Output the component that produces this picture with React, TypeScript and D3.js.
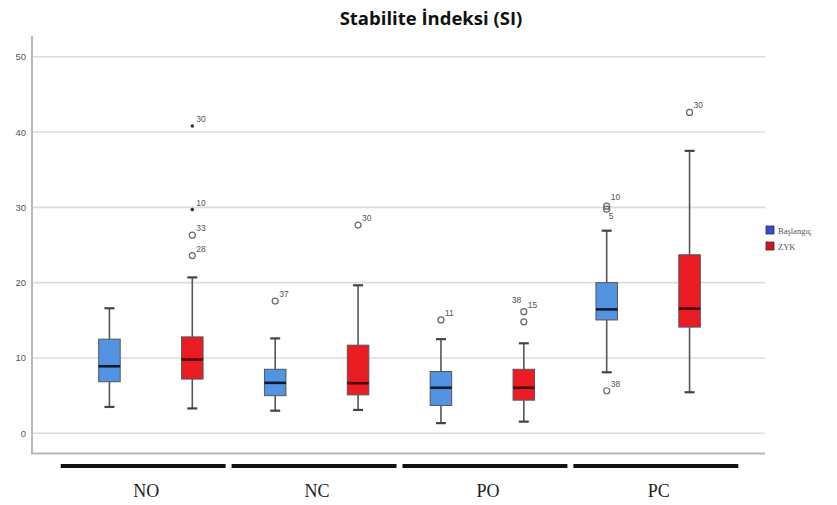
import React from "react";
import * as d3 from "d3";

const categories = ["NO", "NC", "PO", "PC"];
const seriesNames = ["Başlangıç", "ZYK"];
const seriesColors = ["#5294E2", "#E91C24"];
const legendColors = ["#2E4FD8", "#D81018"];

// [whiskerLow, q1, median, q3, whiskerHigh] per category
const baslangicStats = [
  [3.5, 6.85, 8.9, 12.5, 16.6],
  [3.0, 5.0, 6.7, 8.5, 12.6],
  [1.35, 3.7, 6.05, 8.2, 12.5],
  [8.1, 15.05, 16.45, 20.0, 26.9],
];
const zykStats = [
  [3.3, 7.2, 9.8, 12.8, 20.7],
  [3.1, 5.1, 6.65, 11.7, 19.65],
  [1.55, 4.4, 6.05, 8.5, 11.95],
  [5.45, 14.1, 16.55, 23.7, 37.5],
];

// outliers: [categoryIndex, seriesIndex, value, label, type]
const outliers: [number, number, number, string, string][] = [
  [0, 1, 40.8, "30", "star"],
  [0, 1, 29.7, "10", "star"],
  [0, 1, 26.3, "33", "circle"],
  [0, 1, 23.6, "28", "circle"],
  [1, 0, 17.55, "37", "circle"],
  [1, 1, 27.65, "30", "circle"],
  [2, 0, 15.05, "11", "circle"],
  [2, 1, 16.15, "15", "circle"],
  [2, 1, 14.8, "38", "circle"],
  [3, 0, 30.15, "10", "circle"],
  [3, 0, 29.75, "5", "circle"],
  [3, 0, 5.65, "38", "circle"],
  [3, 1, 42.6, "30", "circle"],
];

const yTicks = [0, 10, 20, 30, 40, 50];

export default function App() {
  const W = 837, H = 505;
  const y = d3.scaleLinear().domain([0, 50]).range([433.3, 56.7]);
  const x = d3.scaleBand<string>().domain(categories).range([68, 731]).padding(0);
  const xs = d3.scaleBand<string>().domain(seriesNames).range([0, x.bandwidth()]).padding(0);
  const xo = d3.scaleBand<string>().domain(categories).range([59, 740]).paddingInner(0.035).paddingOuter(0.01);
  const boxW = 21.5;
  const capW = 10;
  const statsAll = [baslangicStats, zykStats];

  const cx = (ci: number, si: number) =>
    (x(categories[ci]) as number) + (xs(seriesNames[si]) as number) + xs.bandwidth() / 2;

  const labelPos = (o: [number, number, number, string, string]) => {
    const px = cx(o[0], o[1]);
    const py = y(o[2]);
    if (o[0] === 2 && o[1] === 1 && o[3] === "38") return [px - 12, py - 19];
    if (o[0] === 3 && o[1] === 0 && o[3] === "5") return [px + 2, py + 10];
    if (o[0] === 3 && o[1] === 0 && o[3] === "10") return [px + 4, py - 6];
    return [px + 4, py - 4];
  };

  return (
    <svg width={W} height={H} style={{ position: "absolute", left: 0, top: 0, background: "#fff" }}>
      <rect x={0} y={0} width={W} height={H} fill="#fff" />
      <text x={431} y={25} textAnchor="middle" fontFamily="'Open Sans', 'DejaVu Sans', sans-serif"
        fontWeight={700} fontSize={18.5} fill="#111">Stabilite İndeksi (SI)</text>
      {yTicks.map((t) => (
        <g key={t}>
          <line x1={33} x2={765} y1={y(t)} y2={y(t)} stroke="#dcdcdc" strokeWidth={1.6} />
          <text x={26} y={y(t) + 3.5} textAnchor="end" fontFamily="'Liberation Sans', Arial, sans-serif"
            fontSize={9.5} fill="#555">{t}</text>
        </g>
      ))}
      <line x1={32} x2={32} y1={36} y2={454} stroke="#b8b8b8" strokeWidth={2} />
      <line x1={31} x2={765} y1={453.5} y2={453.5} stroke="#b8b8b8" strokeWidth={2} />
      {statsAll.map((stats, si) =>
        stats.map((s, ci) => {
          const c = cx(ci, si);
          const [lo, q1, med, q3, hi] = s;
          return (
            <g key={`${si}-${ci}`}>
              <line x1={c} x2={c} y1={y(hi)} y2={y(q3)} stroke="#555" strokeWidth={1.6} />
              <line x1={c} x2={c} y1={y(q1)} y2={y(lo)} stroke="#555" strokeWidth={1.6} />
              <line x1={c - capW / 2} x2={c + capW / 2} y1={y(hi)} y2={y(hi)} stroke="#444" strokeWidth={2.2} />
              <line x1={c - capW / 2} x2={c + capW / 2} y1={y(lo)} y2={y(lo)} stroke="#444" strokeWidth={2.2} />
              <rect x={c - boxW / 2} y={y(q3)} width={boxW} height={y(q1) - y(q3)}
                fill={seriesColors[si]} stroke="#555" strokeWidth={1} />
              <line x1={c - boxW / 2} x2={c + boxW / 2} y1={y(med)} y2={y(med)}
                stroke={si === 0 ? "#0d1a30" : "#4a0a0a"} strokeWidth={2.6} />
            </g>
          );
        })
      )}
      {outliers.map((o, i) => {
        const c = cx(o[0], o[1]);
        const py = y(o[2]);
        const [lx, ly] = labelPos(o);
        return (
          <g key={i}>
            {o[4] === "star" ? (
              <circle cx={c} cy={py} r={1.8} fill="#333" />
            ) : (
              <circle cx={c} cy={py} r={3} fill="none" stroke="#666" strokeWidth={1.2} />
            )}
            <text x={lx} y={ly} fontFamily="'Liberation Sans', Arial, sans-serif" fontSize={8.5} fill="#555">{o[3]}</text>
          </g>
        );
      })}
      {seriesNames.map((n, i) => (
        <g key={n}>
          <rect x={766} y={226 + i * 16} width={8} height={8} fill={legendColors[i]} stroke="#333" strokeWidth={0.8} />
          <text x={778} y={233.5 + i * 16} fontFamily="'Liberation Serif', serif" fontSize={8.5} fill="#555">{n}</text>
        </g>
      ))}
      {categories.map((c) => (
        <g key={c}>
          <line x1={xo(c) as number} x2={(xo(c) as number) + xo.bandwidth()} y1={466} y2={466}
            stroke="#111" strokeWidth={4.2} />
          <text x={(xo(c) as number) + xo.bandwidth() / 2 + 3} y={497} textAnchor="middle"
            fontFamily="'Liberation Serif', 'Times New Roman', serif" fontSize={18} fill="#222">{c}</text>
        </g>
      ))}
    </svg>
  );
}
